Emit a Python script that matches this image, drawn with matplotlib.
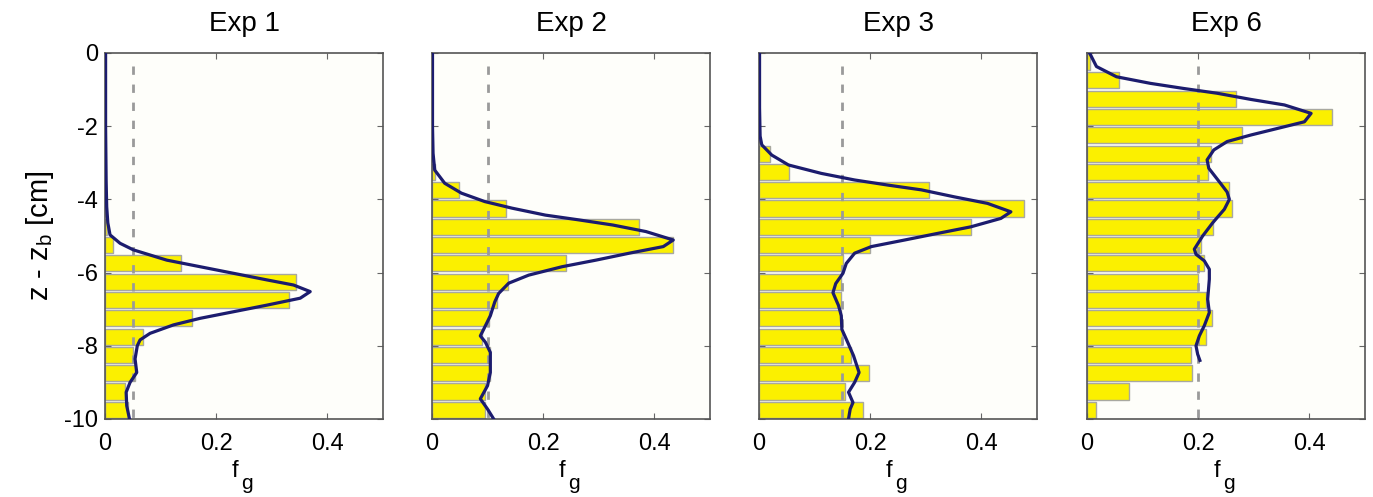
import numpy as np
import matplotlib
matplotlib.use('Agg')
from matplotlib import pyplot as plt

plt.rcParams['font.family'] = ['Liberation Sans', 'DejaVu Sans']
plt.rcParams['mathtext.default'] = 'regular'
plt.rcParams['axes.unicode_minus'] = False
plt.rcParams['font.size'] = 17

titles = ['Exp 1', 'Exp 2', 'Exp 3', 'Exp 6']
mean_fg = [0.05, 0.10, 0.15, 0.20]

# bin centres, 0.5 cm bins from top to bottom
bin_z = [-0.25, -0.75, -1.25, -1.75, -2.25, -2.75, -3.25, -3.75, -4.25, -4.75,
         -5.25, -5.75, -6.25, -6.75, -7.25, -7.75, -8.25, -8.75, -9.25, -9.75]

bars_exp1 = [0, 0, 0, 0, 0, 0, 0, 0, 0, 0.004,
             0.015, 0.136, 0.343, 0.330, 0.156, 0.069, 0.051, 0.054, 0.036, 0.042]
bars_exp2 = [0, 0, 0, 0, 0, 0, 0.006, 0.048, 0.134, 0.373,
             0.434, 0.241, 0.137, 0.117, 0.102, 0.090, 0.104, 0.105, 0.096, 0.096]
bars_exp3 = [0, 0, 0, 0, 0, 0.020, 0.054, 0.306, 0.477, 0.382,
             0.199, 0.151, 0.148, 0.148, 0.148, 0.150, 0.166, 0.197, 0.154, 0.187]
bars_exp6 = [0.006, 0.057, 0.268, 0.441, 0.278, 0.223, 0.217, 0.255, 0.261, 0.226,
             0.205, 0.211, 0.199, 0.214, 0.224, 0.214, 0.187, 0.189, 0.075, 0.016]

# fitted profiles (depth, f_g)
z_exp1 = [0, -2, -3.5, -4.2, -4.64, -4.97, -5.20, -5.38, -5.66, -5.84, -6.02, -6.20,
          -6.34, -6.52, -6.70, -6.89, -7.07, -7.25, -7.43, -7.66, -7.84, -8.0, -8.36,
          -8.73, -9.0, -9.27, -9.64, -10]
f_exp1 = [0.001, 0.001, 0.002, 0.003, 0.005, 0.009, 0.027, 0.051, 0.111, 0.171, 0.231,
          0.291, 0.339, 0.369, 0.351, 0.291, 0.231, 0.171, 0.123, 0.081, 0.063, 0.058,
          0.054, 0.057, 0.045, 0.038, 0.039, 0.044]

z_exp2 = [0, -2, -2.74, -3.20, -3.56, -3.83, -4.06, -4.24, -4.43, -4.56, -4.70, -4.88,
          -5.11, -5.29, -5.47, -5.66, -5.84, -6.07, -6.29, -6.57, -6.8, -7.18, -7.55,
          -7.73, -7.9, -8.18, -8.73, -9.09, -9.45, -9.73, -10]
f_exp2 = [0.001, 0.001, 0.002, 0.005, 0.023, 0.053, 0.095, 0.144, 0.204, 0.264, 0.325,
          0.385, 0.434, 0.416, 0.355, 0.295, 0.234, 0.174, 0.138, 0.120, 0.113, 0.105,
          0.093, 0.087, 0.096, 0.105, 0.105, 0.10, 0.087, 0.10, 0.111]

z_exp3 = [0, -1.5, -2.27, -2.51, -2.79, -3.06, -3.29, -3.47, -3.61, -3.74, -3.93, -4.11,
          -4.34, -4.52, -4.75, -4.93, -5.11, -5.29, -5.47, -5.75, -6.02, -6.3, -6.55,
          -6.9, -7.18, -7.55, -7.82, -8.27, -8.73, -9.0, -9.27, -9.55, -9.73, -10]
f_exp3 = [0.001, 0.001, 0.002, 0.005, 0.023, 0.053, 0.112, 0.172, 0.232, 0.292, 0.351,
          0.411, 0.453, 0.435, 0.381, 0.321, 0.262, 0.202, 0.172, 0.157, 0.151, 0.138,
          0.133, 0.143, 0.148, 0.149, 0.157, 0.17, 0.18, 0.172, 0.161, 0.169, 0.164, 0.161]

z_exp6 = [-0.01, -0.37, -0.65, -0.83, -0.97, -1.10, -1.27, -1.42, -1.65, -1.88, -2.06,
          -2.24, -2.42, -2.65, -2.92, -3.15, -3.56, -3.8, -4.0, -4.27, -4.64, -5.0,
          -5.36, -5.5, -5.68, -5.91, -6.18, -6.73, -7.09, -7.45, -7.73, -8.0, -8.23, -8.4]
f_exp6 = [0.005, 0.017, 0.053, 0.114, 0.174, 0.234, 0.295, 0.355, 0.403, 0.391, 0.343,
          0.295, 0.252, 0.228, 0.216, 0.219, 0.240, 0.252, 0.256, 0.247, 0.226, 0.208,
          0.193, 0.196, 0.211, 0.22, 0.22, 0.217, 0.22, 0.211, 0.202, 0.196, 0.199, 0.203]

bars = [bars_exp1, bars_exp2, bars_exp3, bars_exp6]
curves = [(z_exp1, f_exp1), (z_exp2, f_exp2), (z_exp3, f_exp3), (z_exp6, f_exp6)]

fig = plt.figure(figsize=(13.73, 4.97), dpi=100)
lefts = [0.0765, 0.3146, 0.5528, 0.7917]

for i in range(4):
    ax = fig.add_axes([lefts[i], 0.157, 0.2025, 0.7364])
    ax.set_facecolor('#fefefa')
    ax.barh(bin_z, bars[i], height=0.44, color='#fbf000', edgecolor='#a8a8a0',
            linewidth=1, zorder=1)
    ax.plot([mean_fg[i], mean_fg[i]], [-0.35, -10], color='#9a9a9a', lw=2,
            dashes=(3, 3.5), zorder=2)
    z, f = curves[i]
    ax.plot(f, z, color='#1c1c6e', lw=2.3, zorder=3, solid_joinstyle='round')
    ax.set_xlim(0, 0.5)
    ax.set_ylim(-10, 0)
    ax.set_xticks([0, 0.2, 0.4])
    ax.set_xticklabels(['0', '0.2', '0.4'])
    ax.set_yticks([-10, -8, -6, -4, -2, 0])
    ax.tick_params(direction='in', top=True, right=True, length=4, labelsize=17,
                   color='#666666')
    ax.tick_params(axis='x', pad=10)
    ax.tick_params(axis='y', pad=5)
    if i > 0:
        ax.set_yticklabels([])
    for s in ax.spines.values():
        s.set_color('#555555')
        s.set_linewidth(1.2)
    ax.set_title(titles[i], fontsize=20, pad=16)
    # x label f_g with a large, low subscript like the original
    ax.text(0.468, -0.158, 'f', transform=ax.transAxes, ha='center',
            va='baseline', fontsize=17)
    ax.text(0.512, -0.19, 'g', transform=ax.transAxes, ha='center',
            va='baseline', fontsize=15)
    if i == 0:
        ax.set_ylabel('z - z$_b$ [cm]', fontsize=21, labelpad=6)

fig.savefig('out.png', dpi=100)
